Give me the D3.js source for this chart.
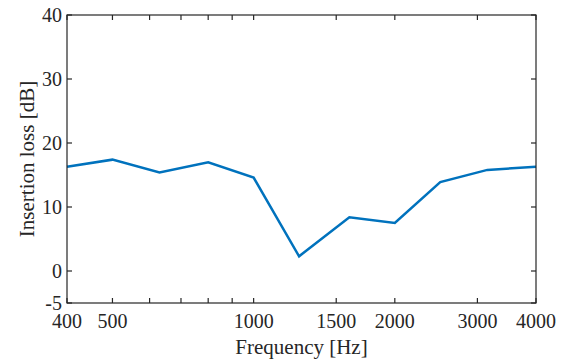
<!DOCTYPE html>
<html><head><meta charset="utf-8">
<script src="https://cdn.jsdelivr.net/npm/d3@7"></script>
<style>body{margin:0;background:#fff}svg{display:block}</style>
</head><body><svg id="c" width="566" height="360"></svg>
<script>
const freqs = [400, 500, 630, 800, 1000, 1250, 1600, 2000, 2500, 3150, 4000];
const insertionLoss = [16.3, 17.4, 15.4, 17.0, 14.6, 2.3, 8.4, 7.5, 13.9, 15.8, 16.3];
const xTicks = [400, 500, 600, 700, 800, 900, 1000, 1500, 2000, 3000, 4000];
const xTickLabels = ["400", "500", "", "", "", "", "1000", "1500", "2000", "3000", "4000"];
const yTicks = [-5, 0, 10, 20, 30, 40];
const xTitle = "Frequency [Hz]";
const yTitle = "Insertion loss [dB]";

const FONT = "'Liberation Serif', 'Times New Roman', Times, 'DejaVu Serif', serif";
const svg = d3.select("#c");
const L = 67, R = 536, T = 15, B = 303;
const x = d3.scaleLog().domain([400, 4000]).range([L, R]);
const y = d3.scaleLinear().domain([-5, 40]).range([B, T]);
const axCol = "#262626", tl = 5;

const g = svg.append("g");
g.append("path").datum(freqs.map((f, i) => [f, insertionLoss[i]]))
  .attr("fill", "none").attr("stroke", "#0072BD").attr("stroke-width", 2.5)
  .attr("d", d3.line().x(d => x(d[0])).y(d => y(d[1])));

g.append("rect").attr("x", L).attr("y", T).attr("width", R - L).attr("height", B - T)
  .attr("fill", "none").attr("stroke", axCol).attr("stroke-width", 1.2);

function txt(sel) { return sel.attr("font-family", FONT).attr("fill", axCol); }

xTicks.forEach((t, i) => {
  const px = x(t);
  g.append("line").attr("x1", px).attr("x2", px).attr("y1", B).attr("y2", B - tl).attr("stroke", axCol).attr("stroke-width", 1.2);
  g.append("line").attr("x1", px).attr("x2", px).attr("y1", T).attr("y2", T + tl).attr("stroke", axCol).attr("stroke-width", 1.2);
  if (xTickLabels[i]) txt(g.append("text")).attr("x", px).attr("y", 328).attr("text-anchor", "middle")
    .attr("font-size", 20).text(xTickLabels[i]);
});
yTicks.forEach(t => {
  const py = y(t);
  g.append("line").attr("x1", L).attr("x2", L + tl).attr("y1", py).attr("y2", py).attr("stroke", axCol).attr("stroke-width", 1.2);
  g.append("line").attr("x1", R).attr("x2", R - tl).attr("y1", py).attr("y2", py).attr("stroke", axCol).attr("stroke-width", 1.2);
  txt(g.append("text")).attr("x", 62).attr("y", py).attr("dy", "0.34em").attr("text-anchor", "end")
    .attr("font-size", 20).text(t);
});
txt(g.append("text")).attr("x", (L + R) / 2).attr("y", 354).attr("text-anchor", "middle").attr("font-size", 21).text(xTitle);
txt(g.append("text")).attr("transform", "translate(34," + ((T + B) / 2) + ") rotate(-90)")
  .attr("text-anchor", "middle").attr("font-size", 21).text(yTitle);
</script></body></html>
